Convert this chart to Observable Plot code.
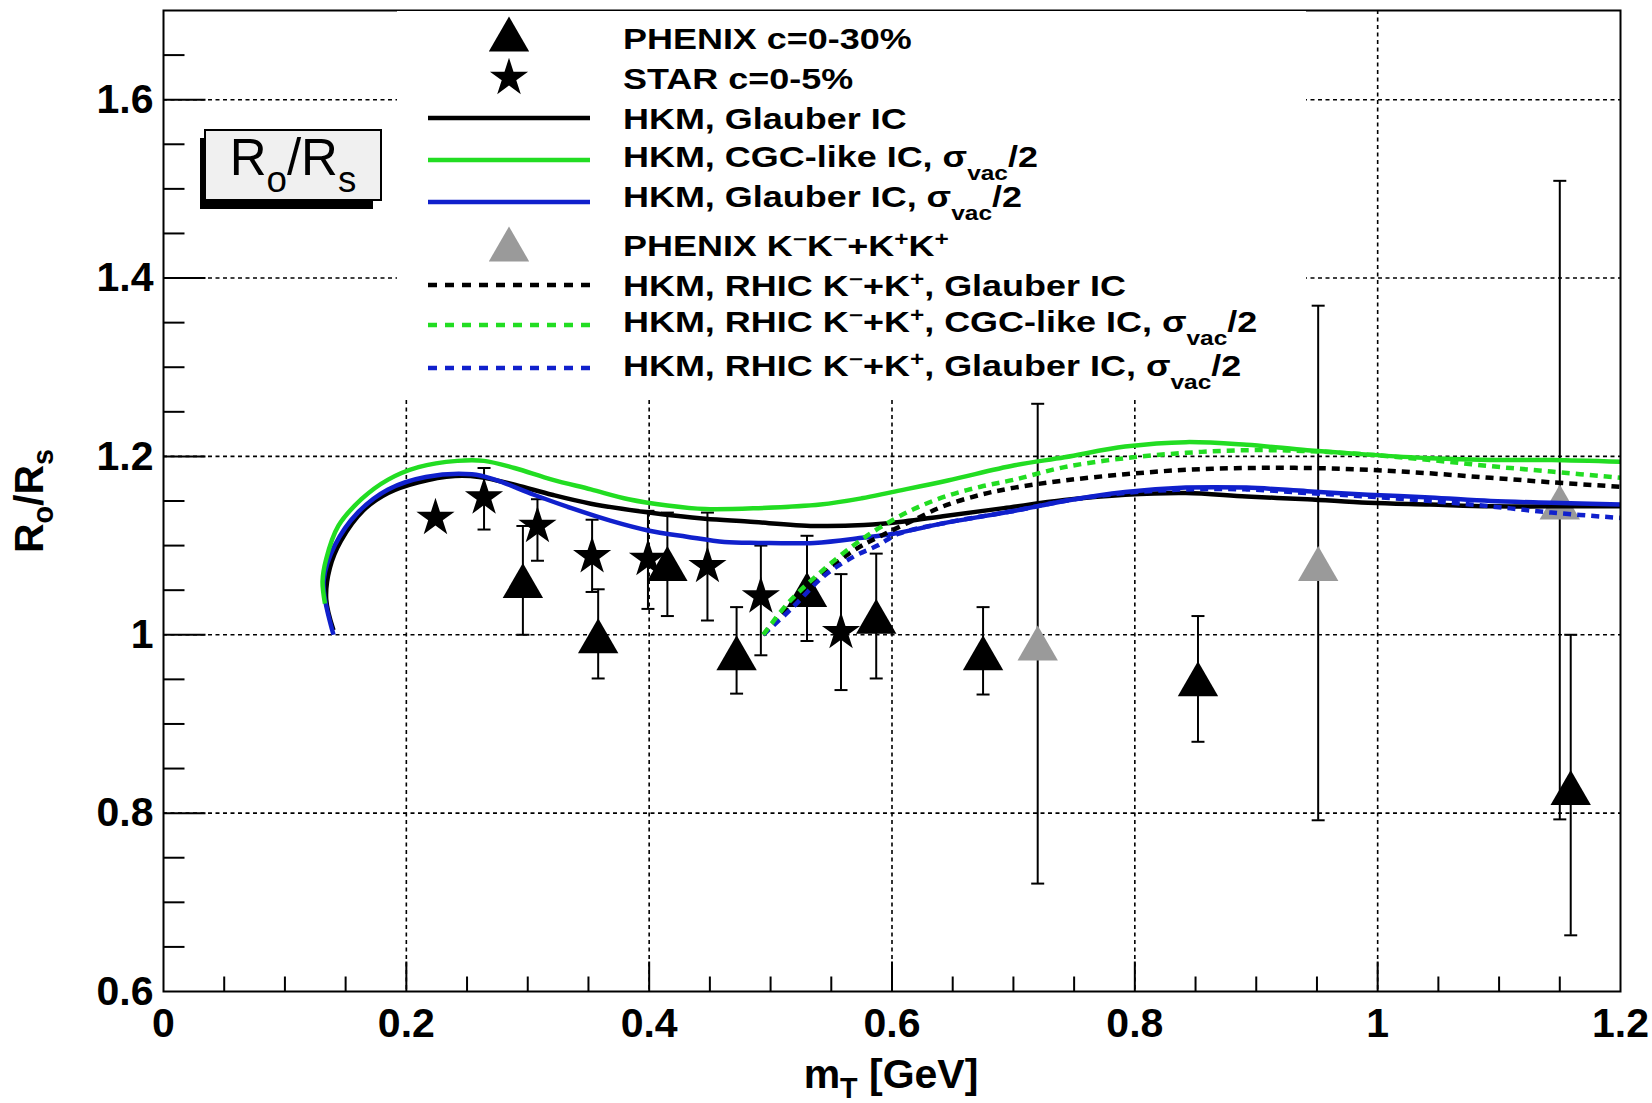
<!DOCTYPE html>
<html><head><meta charset="utf-8">
<script src="https://cdn.jsdelivr.net/npm/d3@7"></script>
<script src="https://cdn.jsdelivr.net/npm/@observablehq/plot@0.6"></script>
<style>
html,body{margin:0;padding:0;background:#fff;}
#chart svg{display:block;}
</style>
</head><body><div id="chart"></div>
<script>
// ---------------- data ----------------
// PHENIX c=0-30% (black triangles)
const phenixX  = [0.296, 0.358, 0.415, 0.472, 0.530, 0.587, 0.675, 0.852, 1.159];
const phenixY  = [1.061, 0.999, 1.080, 0.980, 1.051, 1.021, 0.980, 0.951, 0.829];
const phenixLo = [1.000, 0.951, 1.021, 0.934, 0.993, 0.951, 0.933, 0.880, 0.663];
const phenixHi = [1.122, 1.051, 1.137, 1.031, 1.111, 1.091, 1.031, 1.021, 1.000];
// STAR c=0-5% (stars)
const starX  = [0.224, 0.264, 0.308, 0.353, 0.399, 0.448, 0.492, 0.558];
const starY  = [1.131, 1.154, 1.122, 1.088, 1.085, 1.077, 1.043, 1.003];
const starLo = [1.131, 1.118, 1.083, 1.048, 1.029, 1.016, 0.977, 0.938];
const starHi = [1.131, 1.187, 1.152, 1.129, 1.139, 1.137, 1.100, 1.068];
// PHENIX K-K- + K+K+ (grey triangles)
const kaonX  = [0.720, 0.951, 1.150];
const kaonY  = [0.991, 1.080, 1.149];
const kaonLo = [0.721, 0.792, 0.793];
const kaonHi = [1.259, 1.369, 1.509];

// HKM curves [mT, Ro/Rs]
const hkmGlauber = [[0.140,1.005],[0.134,1.040],[0.137,1.075],[0.146,1.105],[0.165,1.140],[0.185,1.159],[0.210,1.171],[0.240,1.178],[0.260,1.177],[0.290,1.168],[0.320,1.157],[0.352,1.147],[0.400,1.137],[0.446,1.130],[0.481,1.127],[0.536,1.122],[0.577,1.123],[0.610,1.127],[0.642,1.133],[0.692,1.142],[0.742,1.151],[0.792,1.157],[0.842,1.159],[0.892,1.155],[0.942,1.152],[0.992,1.148],[1.043,1.146],[1.093,1.144],[1.143,1.144],[1.200,1.144]];
const hkmCGC = [[0.133,1.035],[0.131,1.060],[0.134,1.085],[0.144,1.122],[0.163,1.152],[0.185,1.174],[0.210,1.188],[0.242,1.195],[0.264,1.195],[0.289,1.187],[0.320,1.174],[0.352,1.163],[0.383,1.152],[0.415,1.145],[0.446,1.141],[0.490,1.142],[0.541,1.146],[0.575,1.153],[0.600,1.160],[0.646,1.173],[0.701,1.190],[0.742,1.199],[0.792,1.211],[0.842,1.216],[0.892,1.213],[0.942,1.207],[0.992,1.202],[1.043,1.198],[1.093,1.196],[1.143,1.196],[1.200,1.194]];
const hkmGlauberHalf = [[0.140,1.000],[0.133,1.040],[0.132,1.062],[0.141,1.100],[0.160,1.137],[0.185,1.163],[0.216,1.177],[0.254,1.180],[0.273,1.174],[0.305,1.157],[0.336,1.142],[0.368,1.128],[0.399,1.117],[0.431,1.110],[0.462,1.104],[0.490,1.103],[0.536,1.103],[0.577,1.109],[0.600,1.113],[0.646,1.126],[0.701,1.139],[0.742,1.150],[0.792,1.160],[0.842,1.165],[0.892,1.165],[0.942,1.161],[0.992,1.157],[1.043,1.154],[1.093,1.150],[1.143,1.148],[1.200,1.146]];
const kGlauber = [[0.494,1.000],[0.516,1.033],[0.541,1.066],[0.569,1.095],[0.591,1.111],[0.617,1.128],[0.642,1.144],[0.673,1.157],[0.701,1.165],[0.742,1.173],[0.792,1.180],[0.842,1.185],[0.892,1.187],[0.942,1.187],[0.992,1.185],[1.043,1.181],[1.093,1.176],[1.143,1.171],[1.200,1.166]];
const kCGC = [[0.494,1.000],[0.514,1.035],[0.541,1.070],[0.569,1.101],[0.591,1.121],[0.618,1.141],[0.646,1.156],[0.673,1.166],[0.701,1.174],[0.742,1.188],[0.792,1.198],[0.842,1.204],[0.892,1.207],[0.942,1.206],[0.992,1.202],[1.043,1.196],[1.093,1.189],[1.143,1.183],[1.200,1.176]];
const kGlauberHalf = [[0.494,1.000],[0.517,1.029],[0.544,1.066],[0.569,1.088],[0.588,1.100],[0.605,1.113],[0.646,1.126],[0.701,1.139],[0.742,1.150],[0.792,1.159],[0.842,1.163],[0.892,1.163],[0.942,1.159],[0.992,1.155],[1.043,1.150],[1.093,1.144],[1.143,1.137],[1.200,1.131]];

// axes / ticks
const xTickLabels = [0, 0.2, 0.4, 0.6, 0.8, 1.0, 1.2];
const yTickLabels = [0.6, 0.8, 1.0, 1.2, 1.4, 1.6];
const xGrid = [0.2, 0.4, 0.6, 0.8, 1.0];
const yGrid = [0.8, 1.0, 1.2, 1.4, 1.6];
const xMinor = [0.05,0.1,0.15,0.25,0.3,0.35,0.45,0.5,0.55,0.65,0.7,0.75,0.85,0.9,0.95,1.05,1.1,1.15];
const yMinor = [0.65,0.7,0.75,0.85,0.9,0.95,1.05,1.1,1.15,1.25,1.3,1.35,1.45,1.5,1.55,1.65];

// texts
const xTitle = [["m",""],["T","sub"],[" [GeV]",""]];
const yTitle = [["R",""],["o","sub"],["/R",""],["s","sub"]];
const boxTitle = [["R",""],["o","sub"],["/R",""],["s","sub"]];
const legendLabels = [
  [["PHENIX c=0-30%",""]],
  [["STAR c=0-5%",""]],
  [["HKM, Glauber IC",""]],
  [["HKM, CGC-like IC, σ",""],["vac","sub"],["/2",""]],
  [["HKM, Glauber IC, σ",""],["vac","sub"],["/2",""]],
  [["PHENIX K",""],["−","sup"],["K",""],["−","sup"],["+K",""],["+","sup"],["K",""],["+","sup"]],
  [["HKM, RHIC K",""],["−","sup"],["+K",""],["+","sup"],[", Glauber IC",""]],
  [["HKM, RHIC K",""],["−","sup"],["+K",""],["+","sup"],[", CGC-like IC, σ",""],["vac","sub"],["/2",""]],
  [["HKM, RHIC K",""],["−","sup"],["+K",""],["+","sup"],[", Glauber IC, σ",""],["vac","sub"],["/2",""]]
];

// ---------------- styles ----------------
const GREEN = "#22dd22", BLUE = "#1020cc", GREY = "#9a9a9a";
const FONT = "'Liberation Sans', Arial, Helvetica, sans-serif";
const legendKeys = [
  {type:"tri", color:"black"}, {type:"star"},
  {type:"line", color:"black"}, {type:"line", color:GREEN}, {type:"line", color:BLUE},
  {type:"tri", color:GREY},
  {type:"dash", color:"black"}, {type:"dash", color:GREEN}, {type:"dash", color:BLUE}
];

const rows = (xs, ys, lo, hi) => xs.map((x,i)=>({x, y: ys[i], lo: lo[i], hi: hi[i]}));
const phenix = rows(phenixX, phenixY, phenixLo, phenixHi);
const star = rows(starX, starY, starLo, starHi);
const kaon = rows(kaonX, kaonY, kaonLo, kaonHi);

const capSym = {draw(ctx){ ctx.moveTo(-6.5,0); ctx.lineTo(6.5,0); }};
const hTick = len => ({draw(ctx){ ctx.moveTo(0,0); ctx.lineTo(len,0); }});
const vTick = len => ({draw(ctx){ ctx.moveTo(0,0); ctx.lineTo(0,-len); }});
const fmt = d => String(+d.toFixed(1));
const gridStyle = {stroke:"black", strokeWidth:1.6, strokeDasharray:"4,3.5"};

function errMarks(data) {
  return [
    Plot.ruleX(data, {x:"x", y1:"lo", y2:"hi", stroke:"black", strokeWidth:2}),
    Plot.dot(data, {x:"x", y:"hi", symbol:capSym, r:1, fill:"none", stroke:"black", strokeWidth:2}),
    Plot.dot(data, {x:"x", y:"lo", symbol:capSym, r:1, fill:"none", stroke:"black", strokeWidth:2})
  ];
}
const curve = (data, color, dashed) => Plot.line(data, {
  x: d=>d[0], y: d=>d[1], curve:"catmull-rom", stroke: color,
  strokeWidth: 4.5, strokeDasharray: dashed ? "8,6" : null, strokeLinecap: "butt"
});

const chart = Plot.plot({
  width: 1652, height: 1103,
  marginLeft: 163, marginRight: 32, marginTop: 10, marginBottom: 112,
  x: {domain: [0, 1.2], axis: null},
  y: {domain: [0.6, 1.7], axis: null},
  style: {fontFamily: FONT, background: "white", color: "black", overflow: "visible"},
  marks: [
    Plot.ruleX(xGrid, {x: d=>d, ...gridStyle}),
    Plot.ruleY(yGrid, {y: d=>d, ...gridStyle}),
    // ticks
    Plot.dot(yGrid, {x: () => 0, y: d=>d, symbol: hTick(42), r:1, fill:"none", stroke:"black", strokeWidth:2}),
    Plot.dot(yMinor, {x: () => 0, y: d=>d, symbol: hTick(21), r:1, fill:"none", stroke:"black", strokeWidth:2}),
    Plot.dot(xGrid, {x: d=>d, y: () => 0.6, symbol: vTick(30), r:1, fill:"none", stroke:"black", strokeWidth:2}),
    Plot.dot(xMinor, {x: d=>d, y: () => 0.6, symbol: vTick(15), r:1, fill:"none", stroke:"black", strokeWidth:2}),
    // tick labels
    Plot.text(xTickLabels, {x: d=>d, frameAnchor:"bottom", lineAnchor:"top", dy: 16, text: fmt,
      fontSize: 41, fontWeight:"bold", fill:"black"}),
    Plot.text(yTickLabels, {y: d=>d, frameAnchor:"left", textAnchor:"end", dx: -10, text: fmt,
      fontSize: 41, fontWeight:"bold", fill:"black"}),
    // error bars
    ...errMarks(star), ...errMarks(phenix), ...errMarks(kaon),
    // markers
    Plot.dot(star, {x:"x", y:"y", symbol:"star", r:12, fill:"black", stroke:"none"}),
    Plot.dot(phenix, {x:"x", y:"y", symbol:"triangle", r:15, fill:"black", stroke:"none", dy:6}),
    Plot.dot(kaon, {x:"x", y:"y", symbol:"triangle", r:15, fill:GREY, stroke:"none", dy:6}),
    // curves
    curve(hkmGlauber, "black", false),
    curve(hkmGlauberHalf, BLUE, false),
    curve(hkmCGC, GREEN, false),
    curve(kGlauber, "black", true),
    curve(kGlauberHalf, BLUE, true),
    curve(kCGC, GREEN, true),
    Plot.frame({stroke:"black", strokeWidth:2})
  ]
});
document.getElementById("chart").appendChild(chart);

// ---------------- rich text helper ----------------
function rich(sel, parts, fs, subDy, supDy, subScale) {
  const t = sel.append("text").attr("font-size", fs);
  let shift = 0;
  parts.forEach(([s, mode]) => {
    const target = mode === "sub" ? subDy : mode === "sup" ? supDy : 0;
    t.append("tspan").attr("dy", target - shift)
      .attr("font-size", mode ? fs * subScale : fs).text(s);
    shift = target;
  });
  return t;
}

const svg = d3.select(chart);

// legend (white box hiding grid)
const lg = svg.append("g").attr("text-anchor", "start");
lg.append("rect").attr("x", 397).attr("y", 11).attr("width", 909).attr("height", 386).attr("fill", "white");
const symY = [34, 76, 118, 160, 202, 244, 285, 325, 368];
const textY = [39, 79, 119, 157, 197, 246, 286, 322, 366];
legendKeys.forEach((k, i) => {
  const y = symY[i];
  if (k.type === "tri") {
    lg.append("path").attr("d", d3.symbol(d3.symbolTriangle, Math.PI*225)())
      .attr("transform", `translate(509,${y + 5.8})`).attr("fill", k.color);
  } else if (k.type === "star") {
    lg.append("path").attr("d", d3.symbol(d3.symbolStar, Math.PI*144)())
      .attr("transform", `translate(509,${y + 1.9})`).attr("fill", "black");
  } else {
    lg.append("line").attr("x1", 428).attr("x2", 590).attr("y1", y).attr("y2", y)
      .attr("stroke", k.color).attr("stroke-width", 4.5)
      .attr("stroke-dasharray", k.type === "dash" ? "9,8" : null);
  }
  const g = lg.append("g").attr("transform", `translate(623,${textY[i] + 10.4}) scale(1.24,1)`)
    .attr("font-family", FONT).attr("font-weight", "bold").attr("fill", "black")
    .attr("text-anchor", "start");
  rich(g, legendLabels[i], 29, 13, -10, 0.68).attr("text-anchor", "start");
});

// Ro/Rs box
const bx = svg.append("g");
bx.append("rect").attr("x", 200).attr("y", 138).attr("width", 173).attr("height", 71).attr("fill", "black");
bx.append("rect").attr("x", 205).attr("y", 130).attr("width", 176).attr("height", 70)
  .attr("fill", "#f0f0f0").attr("stroke", "black").attr("stroke-width", 2);
const bg = bx.append("g").attr("transform", "translate(293,175)")
  .attr("font-family", FONT).attr("text-anchor", "middle").attr("fill", "black");
rich(bg, boxTitle, 51, 17, 0, 0.72);

// axis titles
const xt = svg.append("g").attr("transform", "translate(891,1088)")
  .attr("font-family", FONT).attr("font-weight", "bold").attr("text-anchor", "middle").attr("fill", "black");
rich(xt, xTitle, 41, 10, 0, 0.7);
const yt = svg.append("g").attr("transform", "translate(43,501) rotate(-90)")
  .attr("font-family", FONT).attr("font-weight", "bold").attr("text-anchor", "middle").attr("fill", "black");
rich(yt, yTitle, 41, 10, 0, 0.7);
</script>
</body></html>
